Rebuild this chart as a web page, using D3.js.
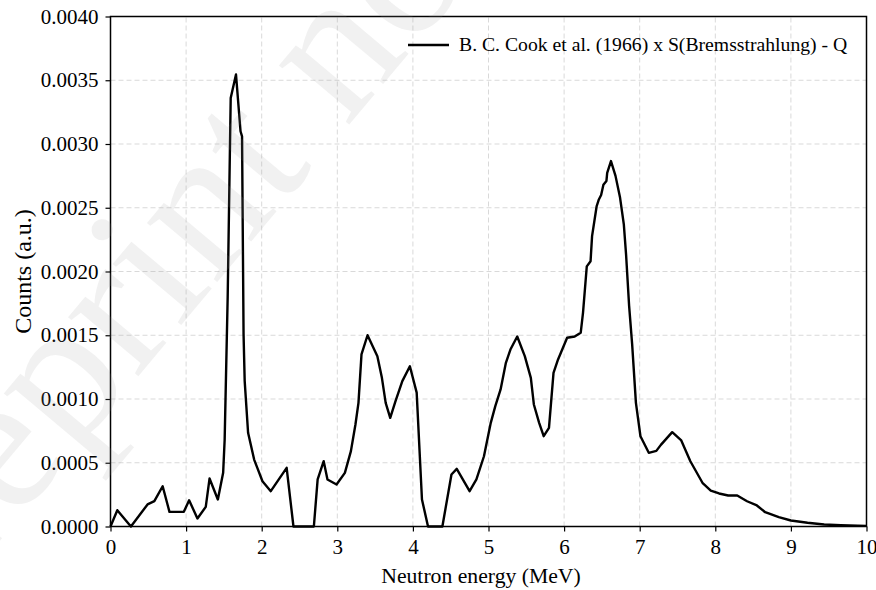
<!DOCTYPE html>
<html>
<head>
<meta charset="utf-8">
<script src="https://cdn.jsdelivr.net/npm/d3@7"></script>
<style>
  html, body { margin: 0; padding: 0; background: #fff; }
  svg { display: block; }
  text { font-family: "Liberation Serif", "Times New Roman", serif; }
</style>
</head>
<body>
<svg id="chart" width="876" height="590"></svg>
<script>
const energy = [0.00,0.09,0.27,0.49,0.58,0.69,0.78,0.97,1.04,1.15,1.26,1.31,1.42,1.49,1.51,1.55,1.59,1.66,1.72,1.74,1.76,1.775,1.82,1.90,2.01,2.12,2.33,2.42,2.69,2.74,2.82,2.87,2.99,3.10,3.18,3.24,3.28,3.32,3.40,3.53,3.59,3.64,3.70,3.77,3.86,3.96,4.05,4.12,4.20,4.39,4.51,4.58,4.75,4.84,4.94,5.03,5.09,5.16,5.23,5.29,5.38,5.48,5.56,5.60,5.67,5.73,5.80,5.86,5.92,6.04,6.14,6.22,6.25,6.30,6.35,6.37,6.43,6.46,6.49,6.52,6.56,6.57,6.62,6.68,6.74,6.79,6.82,6.86,6.90,6.95,7.01,7.12,7.22,7.28,7.43,7.55,7.67,7.83,7.94,8.05,8.17,8.29,8.42,8.55,8.66,8.84,9.00,9.22,9.44,9.66,10.0];
const counts = [0,0.000128,0,0.000173,0.000199,0.000316,0.000115,0.000115,0.000206,0.000063,0.000154,0.000376,0.000212,0.000421,0.00068,0.00180,0.00336,0.003545,0.00310,0.00306,0.00151,0.00114,0.000735,0.000525,0.000355,0.000277,0.00046,0,0,0.000369,0.000512,0.000369,0.000329,0.000421,0.000591,0.0008,0.00097,0.00135,0.0015,0.001336,0.001166,0.00097,0.000852,0.000983,0.00114,0.001257,0.00105,0.000212,0,0,0.000408,0.000452,0.000277,0.000369,0.000551,0.000813,0.000944,0.001075,0.001284,0.001388,0.00149,0.001336,0.001166,0.000957,0.000813,0.000708,0.000774,0.001205,0.00131,0.00148,0.00149,0.00152,0.001676,0.00204,0.00208,0.002277,0.00251,0.002565,0.0026,0.00268,0.00271,0.002774,0.002866,0.00275,0.00258,0.00237,0.00213,0.00173,0.00143,0.00097,0.000708,0.000578,0.000593,0.00064,0.00074,0.000675,0.000512,0.000343,0.000282,0.000259,0.000243,0.000243,0.000198,0.000165,0.000112,0.000073,0.000047,0.000029,0.000016,0.00001,0.000005];
const xTicks = [0,1,2,3,4,5,6,7,8,9,10];
const yTicks = [0,0.0005,0.001,0.0015,0.002,0.0025,0.003,0.0035,0.004];
const seriesLabel = "B. C. Cook et al. (1966) x S(Bremsstrahlung) - Q";
const xTitle = "Neutron energy (MeV)";
const yTitle = "Counts (a.u.)";
const watermark = "Preprint not peer reviewed";

const W = 876, H = 590;
const m = {left: 110.5, right: 9.5, top: 16.5, bottom: 63.5};
const svg = d3.select("#chart");
const x = d3.scaleLinear().domain([0, 10]).range([m.left, W - m.right]);
const y = d3.scaleLinear().domain([0, 0.004]).range([H - m.bottom, m.top]);

// grid
const grid = svg.append("g").attr("stroke", "#d9d9d9").attr("stroke-width", 1).attr("stroke-dasharray", "5,3");
grid.selectAll(".gx").data(xTicks.slice(1, -1)).join("line")
  .attr("x1", d => x(d)).attr("x2", d => x(d)).attr("y1", y(0)).attr("y2", y(0.004));
grid.selectAll(".gy").data(yTicks.slice(1, -1)).join("line")
  .attr("y1", d => y(d)).attr("y2", d => y(d)).attr("x1", x(0)).attr("x2", x(10));

// axes
const xAxis = svg.append("g").attr("transform", `translate(0,${y(0)})`)
  .call(d3.axisBottom(x).tickValues(xTicks).tickFormat(d3.format("d")).tickSize(5).tickPadding(8).tickSizeOuter(0));
const yAxis = svg.append("g").attr("transform", `translate(${x(0)},0)`)
  .call(d3.axisLeft(y).tickValues(yTicks).tickFormat(d3.format(".4f")).tickSize(5).tickPadding(7).tickSizeOuter(0));
[xAxis, yAxis].forEach(a => {
  a.attr("font-family", null);
  a.selectAll("text").attr("font-size", 21).attr("fill", "#000");
  a.selectAll("line").attr("stroke", "#000").attr("stroke-width", 1.2);
  a.select(".domain").remove();
});

// frame
svg.append("rect").attr("x", x(0)).attr("y", y(0.004))
  .attr("width", x(10) - x(0)).attr("height", y(0) - y(0.004))
  .attr("fill", "none").attr("stroke", "#000").attr("stroke-width", 1.5);

// line
const line = d3.line().x((d, i) => x(energy[i])).y((d, i) => y(counts[i]));
svg.append("path").datum(counts).attr("d", line)
  .attr("fill", "none").attr("stroke", "#000").attr("stroke-width", 2.4).attr("stroke-linejoin", "round");

// legend
svg.append("line").attr("x1", 408).attr("x2", 449).attr("y1", 45).attr("y2", 45)
  .attr("stroke", "#000").attr("stroke-width", 2.4);
svg.append("text").attr("x", 459).attr("y", 51).attr("font-size", 19.7).text(seriesLabel);

// titles
svg.append("text").attr("x", 481).attr("y", 583).attr("text-anchor", "middle")
  .attr("font-size", 21.7).text(xTitle);
svg.append("text").attr("transform", `translate(31,${(y(0) + y(0.004)) / 2}) rotate(-90)`)
  .attr("text-anchor", "middle").attr("font-size", 24).text(yTitle);

// watermark
svg.append("text").attr("transform", "translate(-100,660) rotate(-50)")
  .attr("font-family", "Liberation Sans, Arial, sans-serif").attr("font-size", 200)
  .attr("fill", "#9a9a9a").attr("fill-opacity", 0.14).text(watermark);
</script>
</body>
</html>
